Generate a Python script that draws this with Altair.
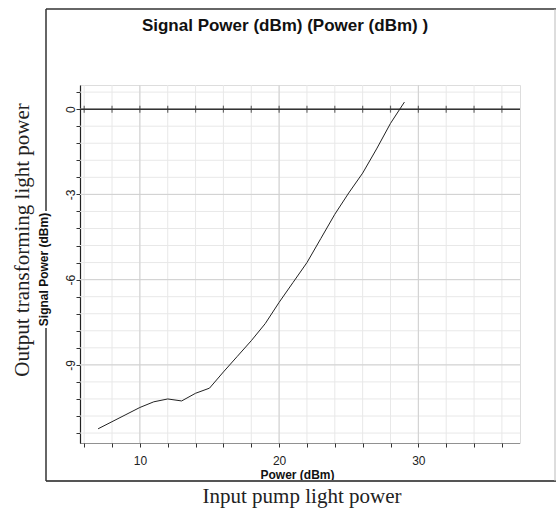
import altair as alt
import pandas as pd

# ---- data ----
power_dbm = [7, 8, 9, 10, 11, 12, 13, 14, 15, 16, 17, 18, 19, 20, 21, 22, 23, 24, 25, 26, 27, 28, 29]
signal_dbm = [-11.25, -11.0, -10.75, -10.5, -10.3, -10.2, -10.27, -10.0, -9.82, -9.25, -8.7, -8.15,
              -7.55, -6.8, -6.1, -5.4, -4.55, -3.7, -2.95, -2.25, -1.4, -0.5, 0.25]
x_tick_values = list(range(6, 37, 2))
x_major_values = [10, 20, 30]
y_tick_values = [round(0.6 - 0.6 * k, 1) for k in range(21)]
y_major_values = [0, -3, -6, -9]
zero_line = [0]

title_text = "Signal Power (dBm) (Power (dBm) )"
x_title = "Power (dBm)"
y_title = "Signal Power (dBm)"
outer_y_label = "Output transforming light power"
outer_x_label = "Input pump light power"

df = pd.DataFrame({"power": power_dbm, "signal": signal_dbm})
ticks_df = pd.DataFrame({"tx": x_tick_values, "ty": [zero_line[0]] * len(x_tick_values)})

SANS = "Liberation Sans"
SERIF = "Liberation Serif"

x_scale = alt.Scale(domain=[5.7, 37.3], nice=False, zero=False)
y_scale = alt.Scale(domain=[-11.75, 0.85], nice=False, zero=False)

x_major = "datum.value % 10 === 0"
y_major = "abs(datum.value % 3) < 0.001"

x_axis = alt.Axis(
    values=x_tick_values, tickCount=200,
    labelExpr=f"{x_major} ? '' + round(datum.value) : ''",
    grid=False, labelOverlap=False,
    domainColor="#444", domainDash=[1, 1], domainWidth=1.2,
    tickColor="#333", tickSize=4,
    labelFont=SANS, labelFontSize=12, labelColor="#222",
    labelBaseline="alphabetic", labelPadding=17, labelAlign="center",
    title=x_title, titleFont=SANS, titleFontSize=12, titleFontWeight="bold",
    titleColor="#111", titleX=217, titleY=35, titleBaseline="alphabetic", titleAlign="center",
)
y_axis = alt.Axis(
    values=y_tick_values, tickCount=200,
    labelExpr=f"{y_major} ? '' + round(datum.value) : ''",
    grid=False, labelOverlap=False,
    domainColor="#222", domainWidth=1.2,
    tickColor="#333", tickSize=4,
    labelFont=SANS, labelFontSize=12, labelColor="#222",
    labelAngle=270, labelAlign="center", labelBaseline="alphabetic", labelPadding=2,
    title=y_title, titleFont=SANS, titleFontSize=12, titleFontWeight="bold",
    titleColor="#111", titleX=-32.5, titleY=184, titleBaseline="alphabetic", titleAlign="center",
    titleAngle=270,
)

# grid lines drawn from the tick arrays
grid_x_minor = alt.Chart(pd.DataFrame({"gx": x_tick_values})).mark_rule(color="#e8e8e8", strokeWidth=1).encode(
    x=alt.X("gx:Q", scale=x_scale))
grid_y_minor = alt.Chart(pd.DataFrame({"gy": y_tick_values})).mark_rule(color="#e8e8e8", strokeWidth=1).encode(
    y=alt.Y("gy:Q", scale=y_scale))
grid_x_major = alt.Chart(pd.DataFrame({"gx": x_major_values})).mark_rule(color="#d0d0d0", strokeWidth=1).encode(
    x=alt.X("gx:Q", scale=x_scale))
grid_y_major = alt.Chart(pd.DataFrame({"gy": y_major_values})).mark_rule(color="#d0d0d0", strokeWidth=1).encode(
    y=alt.Y("gy:Q", scale=y_scale))

line = alt.Chart(df).mark_line(color="#222", strokeWidth=1).encode(
    x=alt.X("power:Q", scale=x_scale, axis=x_axis),
    y=alt.Y("signal:Q", scale=y_scale, axis=y_axis),
)

zero_rule = alt.Chart(pd.DataFrame({"z": zero_line})).mark_rule(color="#333", strokeWidth=1.5).encode(
    y=alt.Y("z:Q", scale=y_scale),
)

zero_ticks = alt.Chart(ticks_df).mark_tick(color="#333", orient="vertical", size=7, thickness=1.2).encode(
    x=alt.X("tx:Q", scale=x_scale),
    y=alt.Y("ty:Q", scale=y_scale),
)

one = alt.Data(values=[{}])

def hrule(x0, x1, y, color="#333", w=1.5):
    return alt.Chart(one).mark_rule(color=color, strokeWidth=w).encode(
        x=alt.value(x0), x2=alt.value(x1), y=alt.value(y))

def vrule(x, y0, y1, color="#333", w=1.5):
    return alt.Chart(one).mark_rule(color=color, strokeWidth=w).encode(
        x=alt.value(x), y=alt.value(y0), y2=alt.value(y1))

frame = [
    hrule(-34, 476, -76),
    hrule(-34, 476, 396, color="#555", w=2),
    vrule(-34, -76, 126),
    vrule(-34, 243, 396),
    vrule(475, -76, 396, color="#bbbbbb", w=1),
]

outer_y = alt.Chart(one).mark_text(
    text=outer_y_label, font=SERIF, fontSize=21, color="#222",
    angle=270, align="center", baseline="alphabetic",
).encode(x=alt.value(-51), y=alt.value(155))

outer_x = alt.Chart(one).mark_text(
    text=outer_x_label, font=SERIF, fontSize=21, color="#222",
    align="center", baseline="alphabetic",
).encode(x=alt.value(222), y=alt.value(418))

chart = alt.layer(
    grid_x_minor, grid_y_minor, grid_x_major, grid_y_major,
    zero_rule, zero_ticks, line, *frame, outer_y, outer_x,
).properties(
    width=440, height=358,
    autosize=alt.AutoSizeParams(type="none"),
    padding={"left": 80, "top": 85, "right": 36, "bottom": 71},
    title=alt.TitleParams(
        text=title_text, font=SANS, fontSize=17, fontWeight="bold", color="#111",
        anchor="middle", frame="group", dx=-15, offset=-40, baseline="alphabetic",
    ),
).configure_view(
    stroke="#555", strokeDash=[1, 1], strokeWidth=1.2,
).configure(background="white")

chart.save("out.html", embed_options={"renderer": "svg", "actions": False})
